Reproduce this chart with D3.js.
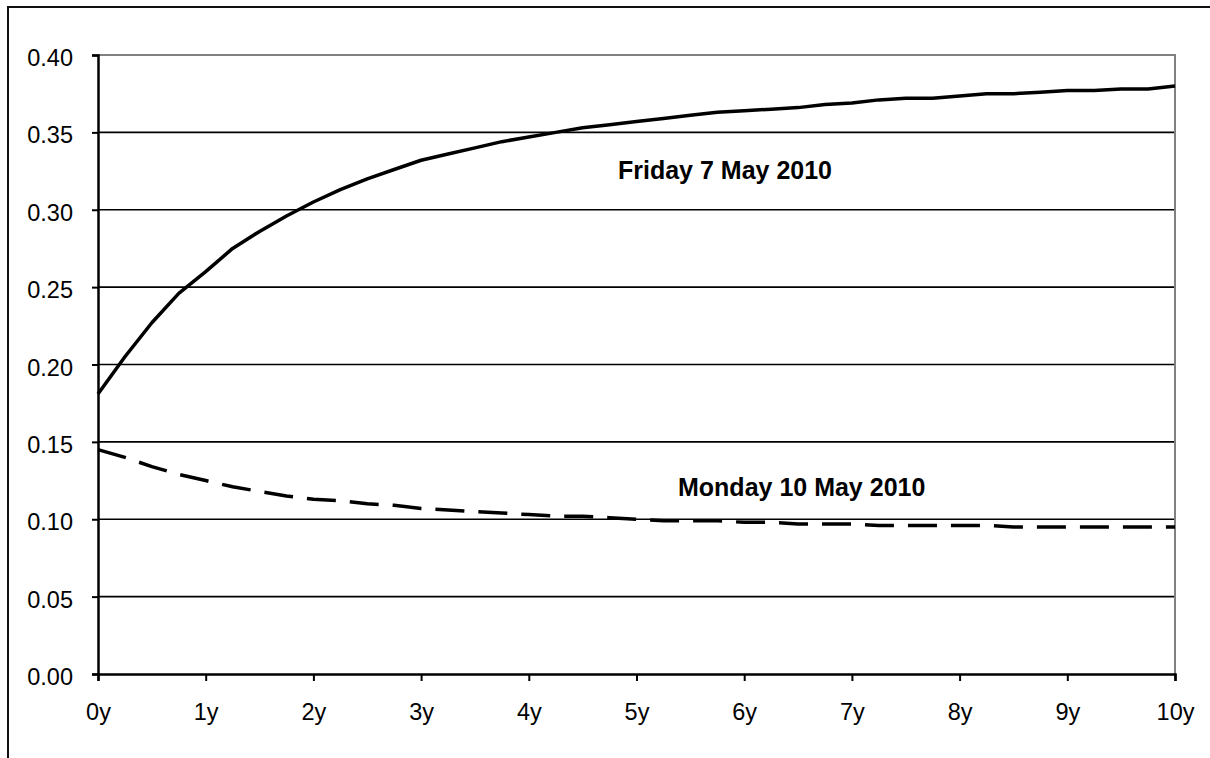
<!DOCTYPE html>
<html><head><meta charset="utf-8">
<script src="https://cdn.jsdelivr.net/npm/d3@7"></script>
<style>body{margin:0;background:#fff}svg{display:block}text{font-family:"Liberation Sans",Arial,sans-serif}</style>
</head><body>
<svg id="c" width="1210" height="758"></svg>
<script>
const tenors = [0,0.25,0.5,0.75,1,1.25,1.5,1.75,2,2.25,2.5,2.75,3,3.25,3.5,3.75,4,4.25,4.5,4.75,5,5.25,5.5,5.75,6,6.25,6.5,6.75,7,7.25,7.5,7.75,8,8.25,8.5,8.75,9,9.25,9.5,9.75,10];
const friday = [0.181,0.205,0.227,0.246,0.260,0.275,0.286,0.296,0.305,0.313,0.320,0.326,0.332,0.336,0.340,0.344,0.347,0.350,0.353,0.355,0.357,0.359,0.361,0.363,0.364,0.365,0.366,0.368,0.369,0.371,0.372,0.372,0.3735,0.375,0.375,0.376,0.377,0.377,0.378,0.378,0.380];
const monday = [0.145,0.140,0.134,0.129,0.125,0.121,0.118,0.115,0.113,0.112,0.110,0.109,0.107,0.106,0.105,0.104,0.103,0.102,0.102,0.101,0.100,0.099,0.099,0.099,0.098,0.098,0.097,0.097,0.097,0.096,0.096,0.096,0.096,0.096,0.095,0.095,0.095,0.095,0.095,0.095,0.095];
const yTicks = [0,0.05,0.10,0.15,0.20,0.25,0.30,0.35,0.40];
const xTicks = [0,1,2,3,4,5,6,7,8,9,10];
const xTickLabels = ["0y","1y","2y","3y","4y","5y","6y","7y","8y","9y","10y"];
const seriesLabels = ["Friday 7 May 2010","Monday 10 May 2010"];

const svg = d3.select("#c");
const L=98, R=1175, T=55, B=674;
const x = d3.scaleLinear().domain([0,10]).range([L,R]);
const y = d3.scaleLinear().domain([0,0.40]).range([B,T]);

// outer frame
svg.append("rect").attr("x",8).attr("y",7).attr("width",1230).attr("height",800)
  .attr("fill","none").attr("stroke","#111").attr("stroke-width",2);

// gridlines
svg.append("g").selectAll("line").data(yTicks.filter(d=>d>0 && d<0.40)).join("line")
  .attr("x1",L).attr("x2",R).attr("y1",d=>y(d)).attr("y2",d=>y(d))
  .attr("stroke","#000").attr("stroke-width",1.6);
// plot border top/right
svg.append("path").attr("d",`M${L},${y(0.40)}H${R}V${B}`).attr("fill","none")
  .attr("stroke","#808080").attr("stroke-width",2);

// y axis
const yAxis = d3.axisLeft(y).tickValues(yTicks).tickFormat(d3.format(".2f")).tickSize(6).tickPadding(19);
const gy = svg.append("g").attr("transform",`translate(${L},0)`).call(yAxis);
gy.select(".domain").attr("stroke","#000").attr("stroke-width",2.5);
gy.selectAll(".tick line").attr("stroke","#000").attr("stroke-width",2);
gy.selectAll(".tick text").attr("font-size",23.5).attr("fill","#000").attr("font-family","'Liberation Sans',Arial,sans-serif").attr("dy","0.45em");

// x axis
const xAxis = d3.axisBottom(x).tickValues(xTicks).tickFormat((d,i)=>xTickLabels[i]).tickSize(7).tickPadding(22);
const gx = svg.append("g").attr("transform",`translate(0,${B})`).call(xAxis);
gx.select(".domain").attr("stroke","#000").attr("stroke-width",2.5);
gx.selectAll(".tick line").attr("stroke","#000").attr("stroke-width",2);
gx.selectAll(".tick text").attr("font-size",23.5).attr("fill","#000").attr("font-family","'Liberation Sans',Arial,sans-serif");

const line = d3.line().x((d,i)=>x(tenors[i])).y(d=>y(d));
svg.append("path").datum(friday).attr("d",line).attr("fill","none")
  .attr("stroke","#000").attr("stroke-width",3.5).attr("stroke-linejoin","round");
svg.append("path").datum(monday).attr("d",line).attr("fill","none")
  .attr("stroke","#000").attr("stroke-width",3.5).attr("stroke-dasharray","29,14");

// series labels
svg.append("text").attr("x",618).attr("y",179).attr("font-size",25).attr("font-weight","bold")
  .attr("fill","#000").text(seriesLabels[0]);
svg.append("text").attr("x",678).attr("y",496).attr("font-size",25).attr("font-weight","bold")
  .attr("fill","#000").text(seriesLabels[1]);
</script>
</body></html>
